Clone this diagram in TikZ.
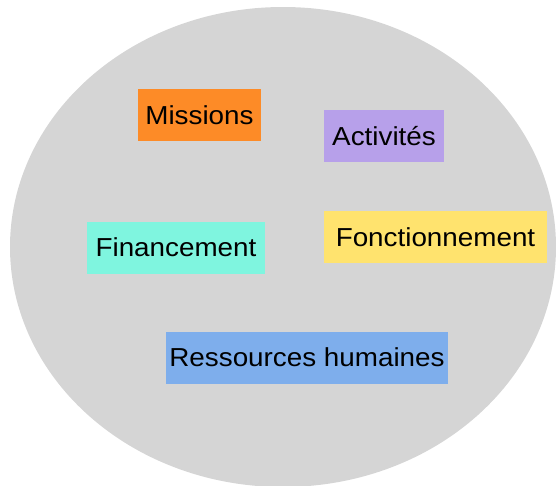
\documentclass[tikz,border=0pt]{standalone}
\usepackage{fontspec}
\setmainfont{Liberation Sans}[FakeStretch=1.07]
\definecolor{disque}{HTML}{D5D5D5}
\definecolor{orange}{HTML}{FD8B27}
\definecolor{violet}{HTML}{B7A0EA}
\definecolor{turquoise}{HTML}{7FF5DF}
\definecolor{jaune}{HTML}{FFE36E}
\definecolor{bleu}{HTML}{7EAEEC}
\tikzset{
	etiquette/.style={rectangle, inner sep=0pt, minimum height=52pt, font=\fontsize{26}{31}\selectfont}
}
\begin{document}
\begin{tikzpicture}[x=1pt,y=-1pt]
		\clip (0,0) rectangle (556,485);
		\useasboundingbox (0,0) rectangle (556,485);
		\fill[disque] (283,247) ellipse [x radius=273, y radius=240];
		\node[etiquette, fill=orange, minimum width=123pt] (missions) at (199.5,115) {Missions};
		\node[etiquette, fill=violet, minimum width=120pt] (activites) at (384,136) {Activités};
		\node[etiquette, fill=turquoise, minimum width=178pt] (financement) at (176,247.5) {Financement};
		\node[etiquette, fill=jaune, minimum width=223pt] (fonctionnement) at (435.5,237) {Fonctionnement};
		\node[etiquette, fill=bleu, minimum width=282pt] (ressources) at (307,357.5) {Ressources humaines};
		\end{tikzpicture}
\end{document}
